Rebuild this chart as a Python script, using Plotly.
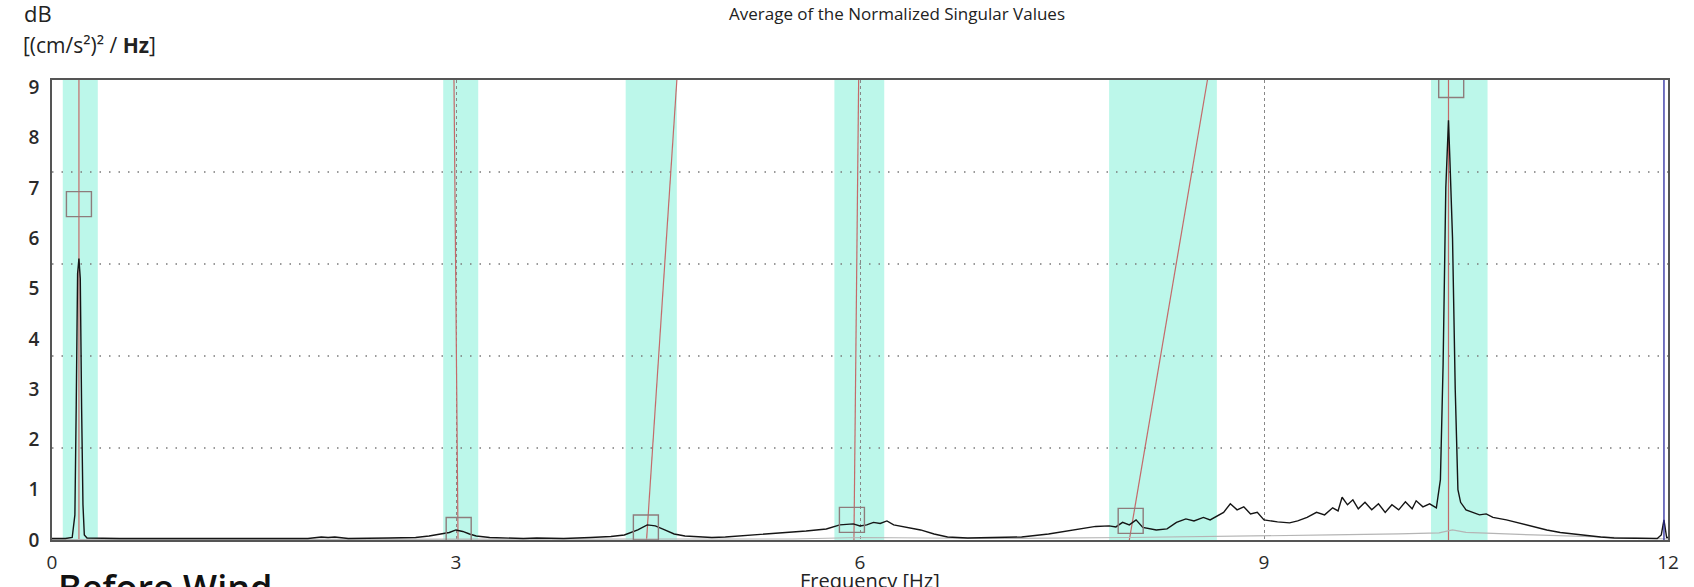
import plotly.graph_objects as go

# ---- data ----
freq = [0.00, 0.10, 0.15, 0.17, 0.18, 0.19, 0.20, 0.21, 0.22, 0.23, 0.24, 0.26, 0.50, 1.00, 1.50,
        1.90, 2.00, 2.05, 2.10, 2.20, 2.50, 2.70, 2.80, 2.90, 2.95, 3.00, 3.05, 3.10, 3.15, 3.25,
        3.35, 3.50, 3.60, 3.80, 4.00, 4.15, 4.25, 4.35, 4.42, 4.48, 4.55, 4.62, 4.70, 4.80, 4.90,
        5.00, 5.20, 5.40, 5.60, 5.75, 5.85, 5.95, 6.00, 6.05, 6.10, 6.15, 6.20, 6.25, 6.35, 6.45,
        6.55, 6.65, 6.80, 7.00, 7.20, 7.40, 7.60, 7.75, 7.85, 7.90, 7.95, 8.00, 8.05, 8.10, 8.20,
        8.28, 8.35, 8.42, 8.48, 8.55, 8.60, 8.65, 8.70, 8.75, 8.80, 8.85, 8.90, 8.95, 9.00, 9.10,
        9.19, 9.25, 9.32, 9.39, 9.45, 9.51, 9.55, 9.58, 9.62, 9.66, 9.70, 9.75, 9.80, 9.85, 9.90,
        9.95, 10.00, 10.05, 10.10, 10.13, 10.18, 10.23, 10.28, 10.31, 10.33, 10.35, 10.37, 10.38,
        10.40, 10.42, 10.44, 10.46, 10.50, 10.55, 10.60, 10.65, 10.70, 10.80, 10.90, 11.00, 11.10,
        11.20, 11.30, 11.40, 11.50, 11.60, 11.80, 11.92, 11.95, 11.97, 11.99, 12.00]
amp = [0.03, 0.03, 0.05, 0.50, 2.70, 5.30, 5.60, 5.20, 2.60, 0.70, 0.10, 0.04, 0.03, 0.03, 0.03,
       0.03, 0.06, 0.05, 0.06, 0.03, 0.04, 0.05, 0.08, 0.12, 0.15, 0.20, 0.17, 0.12, 0.08, 0.05,
       0.04, 0.03, 0.04, 0.03, 0.05, 0.07, 0.10, 0.20, 0.30, 0.28, 0.20, 0.12, 0.08, 0.07, 0.05,
       0.06, 0.10, 0.13, 0.18, 0.22, 0.30, 0.32, 0.28, 0.30, 0.35, 0.33, 0.38, 0.30, 0.25, 0.20,
       0.12, 0.06, 0.04, 0.05, 0.06, 0.12, 0.20, 0.27, 0.28, 0.26, 0.35, 0.30, 0.40, 0.25, 0.20,
       0.22, 0.35, 0.42, 0.38, 0.45, 0.40, 0.48, 0.55, 0.72, 0.60, 0.66, 0.52, 0.55, 0.40, 0.36,
       0.34, 0.38, 0.45, 0.55, 0.50, 0.64, 0.58, 0.85, 0.70, 0.80, 0.62, 0.75, 0.60, 0.72, 0.55,
       0.70, 0.60, 0.76, 0.62, 0.78, 0.66, 0.72, 0.64, 1.20, 3.50, 7.00, 8.35, 7.60,
       6.00, 3.00, 1.00, 0.75, 0.60, 0.55, 0.50, 0.52, 0.45, 0.40, 0.33, 0.27, 0.20,
       0.15, 0.12, 0.08, 0.06, 0.04, 0.03, 0.03, 0.10, 0.40, 0.05, 0.05]

freq2 = [0.0, 5.5, 6.0, 6.5, 7.0, 8.0, 8.7, 9.0, 9.5, 10.0, 10.3, 10.4, 10.5, 11.0, 11.5, 12.0]
amp2 = [0.01, 0.02, 0.05, 0.04, 0.03, 0.05, 0.08, 0.08, 0.10, 0.12, 0.14, 0.20, 0.15, 0.10, 0.06, 0.02]

band_start = [0.08, 2.905, 4.26, 5.81, 7.85, 10.24]
band_end = [0.34, 3.165, 4.64, 6.18, 8.65, 10.66]

mode_x_bottom = [0.20, 3.015, 4.415, 5.955, 8.00, 10.37]
mode_x_top = [0.20, 2.985, 4.64, 5.99, 8.58, 10.37]

pick_x = [0.20, 3.02, 4.41, 5.94, 8.01, 10.39]
pick_y = [6.68, 0.20, 0.25, 0.40, 0.38, 9.05]

cursor_x = 11.97

x_ticks = [0, 3, 6, 9, 12]
y_ticks = [0, 1, 2, 3, 4, 5, 6, 7, 8, 9]

Y_MAX = 9.15
X_MAX = 12.0

FONT = "Open Sans"
PL, PR, PT, PB = 52, 1668, 80, 540   # plot area in page pixels


def px(xp):
    return (xp - PL) / (PR - PL)


def py(yp):
    return (PB - yp) / (PB - PT)


fig = go.Figure()

# mode lines (red)
for xb, xt in zip(mode_x_bottom, mode_x_top):
    fig.add_trace(go.Scatter(x=[xb, xt], y=[0, Y_MAX], mode="lines",
                             line=dict(color="#c46a6a", width=1.2),
                             showlegend=False, hoverinfo="skip"))

# second singular value (gray)
fig.add_trace(go.Scatter(x=freq2, y=amp2, mode="lines",
                         line=dict(color="#b5b5b5", width=1.2),
                         showlegend=False, hoverinfo="skip"))

# main spectrum (black)
fig.add_trace(go.Scatter(x=freq, y=amp, mode="lines",
                         line=dict(color="#151515", width=1.4),
                         showlegend=False))

# cursor (blue)
fig.add_trace(go.Scatter(x=[cursor_x, cursor_x], y=[0, Y_MAX], mode="lines",
                         line=dict(color="#2a2aa0", width=1.3),
                         showlegend=False, hoverinfo="skip"))

# picked peaks (open squares)
fig.add_trace(go.Scatter(x=pick_x, y=pick_y, mode="markers",
                         marker=dict(symbol="square-open", size=25,
                                     color="#8e7c7c", line=dict(width=1.4, color="#8e7c7c")),
                         showlegend=False, cliponaxis=True))

shapes = []
for a, b in zip(band_start, band_end):
    shapes.append(dict(type="rect", xref="x", yref="paper", x0=a, x1=b, y0=0, y1=1,
                       fillcolor="#bcf7ea", line=dict(width=0), layer="below"))
for k in range(1, 5):
    lvl = Y_MAX * k / 5
    shapes.append(dict(type="line", xref="paper", yref="y", x0=0, x1=1, y0=lvl, y1=lvl,
                       line=dict(color="#7a7a7a", width=1.3, dash="1.5px,8px"), layer="between"))

annotations = [
    dict(text="dB", xref="paper", yref="paper", x=px(22), y=py(13),
         xanchor="left", yanchor="middle", showarrow=False,
         font=dict(family=FONT, size=22, color="#222")),
    dict(text="[(cm/s²)² / <b>Hz</b>]", xref="paper", yref="paper",
         x=px(21), y=py(45), xanchor="left", yanchor="middle",
         showarrow=False, font=dict(family=FONT, size=21, color="#222")),
    dict(text="Average of the Normalized Singular Values", xref="paper", yref="paper",
         x=px(897), y=py(14), xanchor="center", yanchor="middle",
         showarrow=False, font=dict(family=FONT, size=17, color="#222")),
    dict(text="Frequency [Hz]", xref="paper", yref="paper",
         x=px(870), y=py(565), xanchor="center", yanchor="top",
         showarrow=False, font=dict(family=FONT, size=20, color="#222")),
    dict(text="Before Wind", xref="paper", yref="paper",
         x=px(56), y=py(561), xanchor="left", yanchor="top",
         showarrow=False, font=dict(family=FONT, size=36, color="#111", weight=600)),
]

fig.update_layout(
    width=1694, height=587,
    margin=dict(l=PL, r=1694 - PR, t=PT, b=587 - PB),
    paper_bgcolor="white", plot_bgcolor="white",
    shapes=shapes, annotations=annotations,
    xaxis=dict(range=[0, X_MAX], tickvals=x_ticks, ticktext=[str(v) for v in x_ticks],
               showgrid=True, gridcolor="#888", griddash="dot", gridwidth=1.2,
               zeroline=False, showline=True, mirror=True, linecolor="#555", linewidth=1.5,
               ticks="", ticklabelstandoff=4,
               tickfont=dict(family=FONT, size=19, color="#2a2a2a")),
    yaxis=dict(range=[0, Y_MAX], tickvals=y_ticks, showgrid=False,
               zeroline=False, showline=True, mirror=True, linecolor="#555", linewidth=1.5,
               ticks="", ticklabelstandoff=7,
               tickfont=dict(family=FONT, size=19, color="#2a2a2a", weight=600)),
)

fig.write_html("out.html", config={"displayModeBar": False},
               post_script="document.body.style.margin='0';document.body.style.overflow='hidden';")
